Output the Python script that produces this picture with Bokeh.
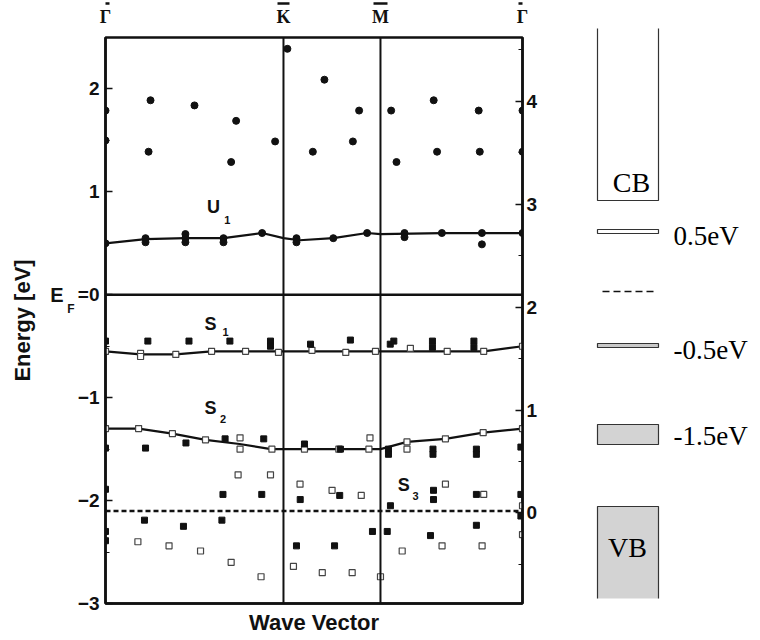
from bokeh.plotting import figure
from bokeh.models import Range1d, LinearAxis, Span, Label, FixedTicker
from bokeh.layouts import row
from bokeh.embed import file_html
from bokeh.resources import INLINE
from bokeh.core.properties import value

# ---------------- data ----------------
sym_labels = ["\u0393", "K", "M", "\u0393"]
sym_k = [0.0, 1.0, 1.545, 2.343]          # Γ, K, M, Γ along the wave-vector path
right_offset = 2.12                        # right-hand energy scale = left + offset
fermi_dash_e = -2.1

cb_k = [0.0, 0.0, 0.253, 0.242, 0.500, 0.734, 0.706, 0.953, 1.022, 1.165, 1.230,
        1.425, 1.390, 1.605, 1.635, 1.844, 1.863, 2.097, 2.103, 2.343, 2.343]
cb_e = [1.79, 1.50, 1.89, 1.39, 1.84, 1.69, 1.29, 1.49, 2.39, 1.39, 2.09,
        1.79, 1.49, 1.79, 1.29, 1.89, 1.39, 1.79, 1.39, 1.79, 1.39]

u1p_k = [0.0, 0.225, 0.225, 0.449, 0.449, 0.449, 0.663, 0.663, 0.880, 1.073,
         1.073, 1.280, 1.470, 1.680, 1.680, 1.890, 2.115, 2.115, 2.343]
u1p_e = [0.50, 0.55, 0.51, 0.59, 0.55, 0.51, 0.55, 0.51, 0.60, 0.55,
         0.51, 0.55, 0.60, 0.60, 0.56, 0.60, 0.60, 0.49, 0.60]

u1_k = [0.0, 0.225, 0.449, 0.663, 0.880, 1.0, 1.09, 1.280, 1.470, 1.545, 1.890, 2.343]
u1_e = [0.50, 0.54, 0.55, 0.55, 0.60, 0.55, 0.53, 0.55, 0.60, 0.59, 0.60, 0.60]
s1_k = [0.0, 0.197, 0.395, 0.596, 1.545, 2.125, 2.343]
s1_e = [-0.55, -0.58, -0.58, -0.55, -0.55, -0.55, -0.50]
s2_k = [0.0, 0.186, 0.376, 0.562, 0.753, 0.930, 1.545, 1.694, 1.910, 2.122, 2.343]
s2_e = [-1.30, -1.30, -1.35, -1.41, -1.45, -1.50, -1.50, -1.43, -1.40, -1.34, -1.30]

open_k = [0.0, 0.197, 0.197, 0.395, 0.596, 0.787, 0.972, 1.160, 1.350, 1.517, 1.713, 1.920, 2.125, 2.343,
          0.0, 0.186, 0.376, 0.562, 0.756, 0.756, 0.935, 1.118, 1.311, 1.480, 1.486, 1.694, 1.694, 1.910, 2.122, 2.343,
          0.745, 0.927, 1.093, 1.273, 1.437, 1.910, 2.125, 2.343, 2.343, 0.182, 0.357, 0.534, 0.706, 0.874,
          1.056, 1.218, 1.386, 1.545, 1.667, 1.891, 2.116]
open_e = [-0.55, -0.57, -0.60, -0.58, -0.55, -0.55, -0.56, -0.54, -0.56, -0.55, -0.52, -0.55, -0.55, -0.50,
          -1.30, -1.30, -1.35, -1.41, -1.39, -1.50, -1.50, -1.50, -1.50, -1.50, -1.39, -1.43, -1.50, -1.40, -1.34, -1.30,
          -1.75, -1.75, -1.84, -1.90, -1.95, -1.84, -1.94, -2.05, -2.33, -2.40, -2.44, -2.49, -2.60, -2.74,
          -2.64, -2.70, -2.70, -2.74, -2.49, -2.44, -2.44]

sq_k = [0.0, 0.238, 0.469, 0.699, 0.927, 0.927, 1.152, 1.376, 1.600, 1.620, 1.837, 1.837, 2.070, 2.070,
        0.0, 0.225, 0.452, 0.672, 0.889, 1.118, 1.320, 1.590, 1.590, 1.840, 1.840, 2.084, 2.084, 2.334,
        0.0, 0.660, 0.878, 1.094, 1.316, 1.843, 1.843, 2.084, 2.334, 1.601, 2.334, 0.219, 0.438, 0.654,
        0.0, 0.0, 1.500, 1.583, 1.073, 1.287, 1.826, 2.084]
sq_e = [-0.45, -0.45, -0.45, -0.45, -0.45, -0.50, -0.48, -0.44, -0.48, -0.45, -0.45, -0.51, -0.45, -0.51,
        -1.49, -1.49, -1.44, -1.40, -1.40, -1.45, -1.50, -1.50, -1.55, -1.50, -1.55, -1.50, -1.55, -1.48,
        -1.89, -1.94, -1.94, -1.99, -1.95, -1.90, -1.99, -1.94, -1.94, -2.05, -2.15, -2.19, -2.25, -2.19,
        -2.30, -2.39, -2.30, -2.30, -2.44, -2.44, -2.34, -2.24]

left_ticks = [-3, -2, -1, 0, 1, 2]
left_minor = [-2.5, -1.5, -0.5, 0.5, 1.5]
right_ticks = [0, 1, 2, 3, 4]
right_minor = [-0.5, 0.5, 1.5, 2.5, 3.5, 4.5]
ef_sub_tick = -0.135

level_names = ["0.5eV", "-0.5eV", "-1.5eV"]
band_names = ["CB", "VB"]

INK = "#111111"
SANS = "Liberation Sans"
SERIF = "Liberation Serif"
W1, H1 = 563, 638
BL, BR = 105, 41

# ---------------- main band-structure panel ----------------
p = figure(width=W1, height=H1, x_range=Range1d(sym_k[0], sym_k[-1]), y_range=Range1d(-3, 2.5),
           output_backend="svg", toolbar_location=None,
           min_border_left=BL, min_border_right=BR, min_border_top=37, min_border_bottom=35)
p.frame_align = False
p.grid.visible = False
p.outline_line_color = INK
p.outline_line_width = 2.5
p.background_fill_color = "white"
p.border_fill_color = "white"

xa = p.xaxis[0]
xa.ticker = FixedTicker(ticks=[])
xa.axis_line_width = 2.5
xa.axis_line_color = INK
xa.major_tick_line_color = None
xa.minor_tick_line_color = None
xa.major_tick_out = 0
xa.major_label_text_font_size = "0px"
xa.axis_label = "Wave Vector"
xa.axis_label_text_font = SANS
xa.axis_label_text_font_style = "bold"
xa.axis_label_text_font_size = "22px"
xa.axis_label_text_color = INK
xa.axis_label_standoff = 6


def style_energy_axis(ax):
    ax.axis_line_width = 2.5
    ax.axis_line_color = INK
    ax.major_tick_in = 7
    ax.major_tick_out = 0
    ax.minor_tick_in = 4
    ax.minor_tick_out = 0
    ax.major_tick_line_width = 1.5
    ax.minor_tick_line_width = 1.2
    ax.major_tick_line_color = INK
    ax.minor_tick_line_color = INK
    ax.major_label_text_font = SANS
    ax.major_label_text_font_style = "bold"
    ax.major_label_text_font_size = "19px"
    ax.major_label_text_color = INK


ya = p.yaxis[0]
ya.ticker = FixedTicker(ticks=left_ticks, minor_ticks=left_minor)
ya.major_label_overrides = {0: "=0"}
style_energy_axis(ya)
ya.major_label_standoff = 6


def bare_axis(ax):
    ax.axis_line_color = None
    ax.major_tick_line_color = None
    ax.minor_tick_line_color = None
    ax.major_tick_in = 0
    ax.major_tick_out = 0
    ax.minor_tick_in = 0
    ax.minor_tick_out = 0
    ax.major_label_text_color = INK


def label_axis(tick, text, size, standoff, title=None):
    ax = LinearAxis(ticker=FixedTicker(ticks=[tick]), major_label_overrides={tick: text})
    bare_axis(ax)
    ax.major_label_standoff = standoff
    ax.major_label_text_font = SANS
    ax.major_label_text_font_style = "bold"
    ax.major_label_text_font_size = size
    if title:
        ax.axis_label = title
        ax.axis_label_text_font = SANS
        ax.axis_label_text_font_style = "bold"
        ax.axis_label_text_font_size = "22px"
        ax.axis_label_text_color = INK
        ax.axis_label_standoff = 12
    p.add_layout(ax, "left")


# E_F = 0 : subscript "F" and "E" as two further label-only axes
label_axis(ef_sub_tick, "F", "12px", 0)
label_axis(0, "E", "20px", 1, title="Energy [eV]")

p.extra_y_ranges = {"right": Range1d(-3 + right_offset, 2.5 + right_offset)}
ra = LinearAxis(y_range_name="right", ticker=FixedTicker(ticks=right_ticks, minor_ticks=right_minor))
style_energy_axis(ra)
ra.major_label_standoff = 4
p.add_layout(ra, "right")

# top axis with the symmetry points
ta = LinearAxis(ticker=FixedTicker(ticks=sym_k),
                major_label_overrides=dict(zip(sym_k, sym_labels)))
bare_axis(ta)
ta.major_label_standoff = 11
ta.major_label_text_font = SERIF
ta.major_label_text_font_style = "bold"
ta.major_label_text_font_size = "18px"
p.add_layout(ta, "above")

# over-bars of the symmetry labels: short bounded axis lines stacked just above the labels
bar_px = [8, 12, 14, 8]
px_per_k = (W1 - BL - BR) / (sym_k[-1] - sym_k[0])
for kk, w in zip(sym_k, bar_px):
    half = w / 2 / px_per_k
    bax = LinearAxis(ticker=FixedTicker(ticks=[]), bounds=(kk - half, kk + half))
    bare_axis(bax)
    bax.major_label_text_font_size = "0px"
    bax.axis_line_color = INK
    bax.axis_line_width = 2.5
    p.add_layout(bax, "above")

for kk in sym_k[1:3]:
    p.add_layout(Span(location=kk, dimension="height", line_color=INK, line_width=2))
p.add_layout(Span(location=0, dimension="width", line_color=INK, line_width=2.5))
p.add_layout(Span(location=fermi_dash_e, dimension="width", line_color=INK, line_width=2.5, line_dash="5 3"))

for kk, ee in [(u1_k, u1_e), (s1_k, s1_e), (s2_k, s2_e)]:
    p.line(kk, ee, line_color=INK, line_width=2.2)

p.scatter(open_k, open_e, marker="square", size=6, fill_color="white", line_color="#444444", line_width=1.2)
p.scatter(sq_k, sq_e, marker="square", size=6, fill_color=INK, line_color=INK)
p.scatter(cb_k, cb_e, marker="circle", size=7, fill_color=INK, line_color=INK)
p.scatter(u1p_k, u1p_e, marker="circle", size=7, fill_color=INK, line_color=INK)


def lab(x, y, t, size):
    p.add_layout(Label(x=x, y=y, text=t, text_font=SANS, text_font_style="bold",
                       text_font_size=size, text_align="center", text_baseline="middle",
                       text_color=INK))


lab(0.607, 0.85, "U", "18px"); lab(0.685, 0.73, "1", "11px")
lab(0.590, -0.28, "S", "18px"); lab(0.675, -0.36, "1", "11px")
lab(0.590, -1.10, "S", "18px"); lab(0.660, -1.21, "2", "11px")
lab(1.676, -1.85, "S", "18px"); lab(1.742, -1.96, "3", "11px")

# ---------------- schematic level diagram ----------------
p2 = figure(width=190, height=H1, x_range=Range1d(0, 190), y_range=Range1d(H1, 0),
            output_backend="svg", toolbar_location=None, min_border=0,
            x_axis_location=None, y_axis_location=None)
p2.frame_align = False
p2.grid.visible = False
p2.outline_line_color = None

L, R = 34, 95
cb_top, cb_bot = 28, 200
vb_top, vb_bot = 506, 598
lvl_top = [229, 343, 424]
lvl_bot = [233, 347, 444]
lvl_fill = ["white", "#c9c9c9", "#d3d3d3"]
lvl_text_y = [235, 349, 435]
dash_y = 291
EDGE = "#333333"

p2.quad(left=[L], right=[R], top=[vb_top], bottom=[vb_bot], fill_color="#d3d3d3", line_color=None)
p2.multi_line(xs=[[L, L, R, R], [L, L, R, R]],
              ys=[[cb_top, cb_bot, cb_bot, cb_top], [vb_bot, vb_top, vb_top, vb_bot]],
              line_color=EDGE, line_width=1.2)
p2.quad(left=[L] * 3, right=[R] * 3, top=lvl_top, bottom=lvl_bot, fill_color=lvl_fill,
        line_color=EDGE, line_width=1.2)
p2.segment(x0=[L + 5], y0=[dash_y], x1=[R - 1], y1=[dash_y], line_color=INK, line_width=1.3, line_dash="7 4")
p2.text(x=[110] * 3, y=lvl_text_y, text=level_names, text_font=value(SERIF), text_font_size="27px",
        text_align="left", text_baseline="middle", text_color="black")
p2.text(x=[68, 64], y=[182, 547], text=band_names, text_font=value(SERIF), text_font_size="28px",
        text_align="center", text_baseline="alphabetic", text_color="black")

layout = row(p, p2)
open("out.html", "w").write(file_html(layout, INLINE))
